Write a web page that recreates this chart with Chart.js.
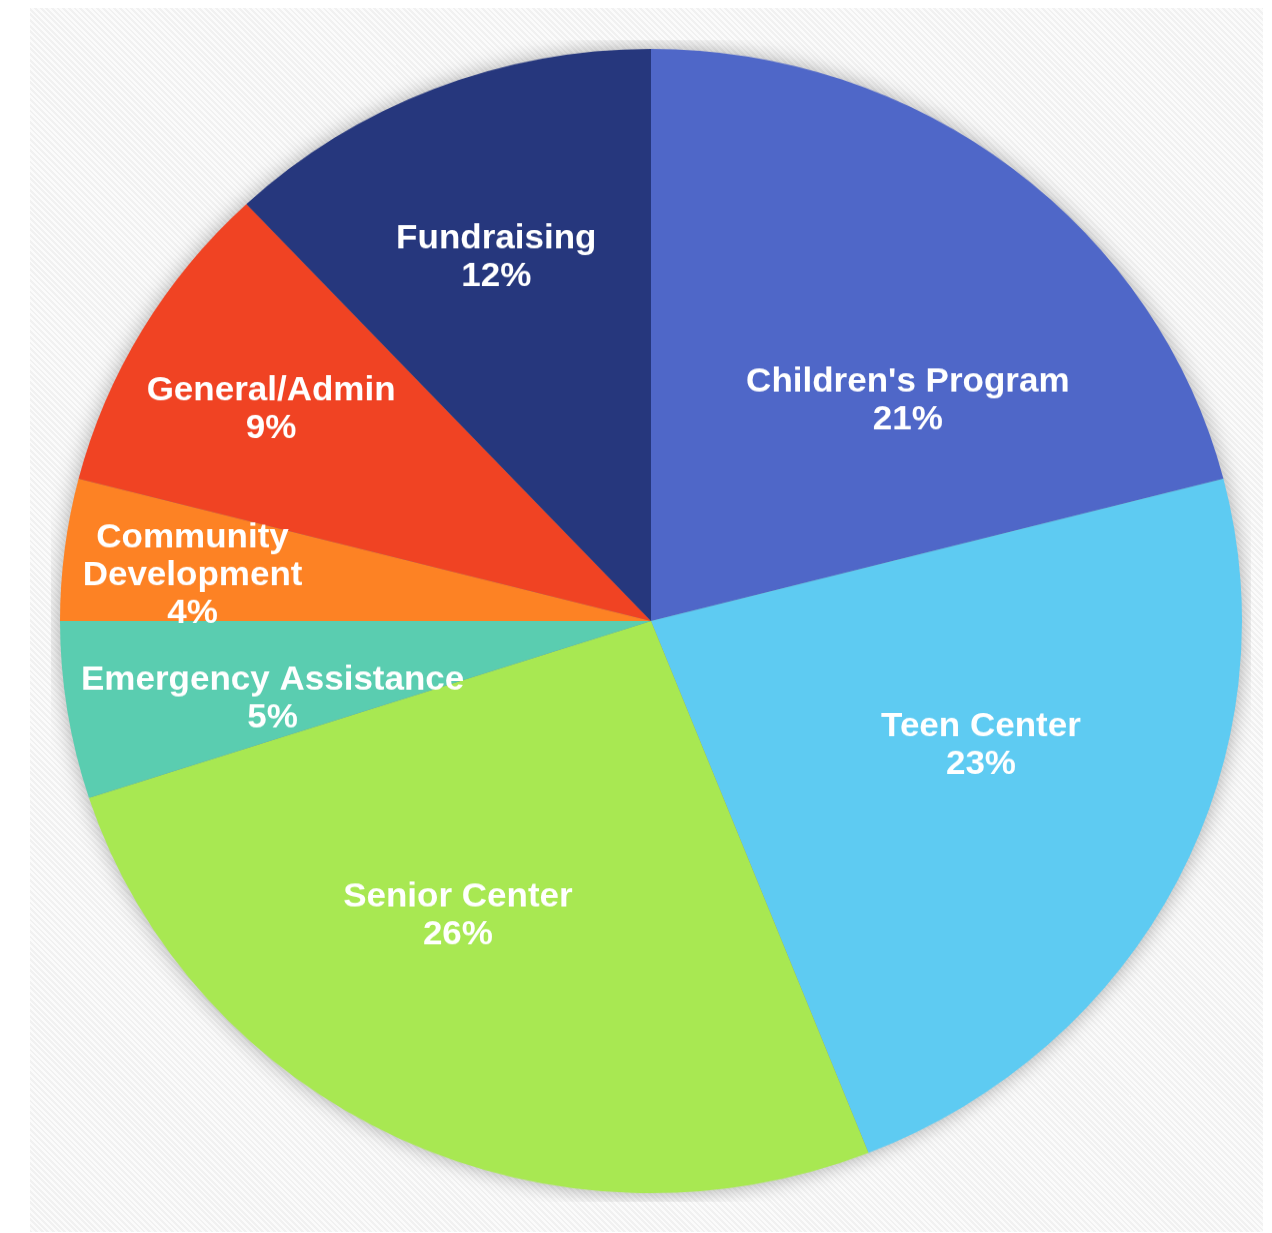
<!DOCTYPE html>
<html>
<head>
<meta charset="utf-8">
<script src="https://cdn.jsdelivr.net/npm/chart.js@4/dist/chart.umd.min.js"></script>
<style>
    html, body { margin: 0; padding: 0; background: #ffffff; }
    body { width: 1272px; height: 1233px; position: relative; overflow: hidden; }
    #panel {
        position: absolute; left: 30px; top: 8px; width: 1233px; height: 1224px;
        background: repeating-linear-gradient(45deg, #f1f1f1 0px, #f1f1f1 2px, #fbfbfb 2px, #fbfbfb 4px);
    }
    #wrap {
        position: absolute; left: 51px; top: 21px; width: 1200px; height: 1200px;
        transform: scaleY(0.968); transform-origin: 50% 50%;
    }
</style>
</head>
<body>
<div id="panel"></div>
<div id="wrap"><canvas id="pieChart"></canvas></div>
<script>
// カテゴリと割合（%）
const categories = [
    ["Children's Program"],
    ['Teen Center'],
    ['Senior Center'],
    ['Emergency Assistance'],
    ['Community', 'Development'],
    ['General/Admin'],
    ['Fundraising']
];
const shares = [21, 23, 26, 5, 4, 9, 12];
const sliceColors = ['#4f67c8', '#5ecbf2', '#a8e852', '#5acdb0', '#fd8224', '#f04323', '#26377d'];

// ラベル位置の微調整（中心角からのずれ[度]、半径に対する比率）
const labelAngleShift = [10.5, -6, 7.3, -2.8, -1.2, -0.5, -0.7];
const labelRadius = [0.582, 0.598, 0.608, 0.654, 0.78, 0.743, 0.69];

// 円の下に影を描く
const shadowPlugin = {
    id: 'pieShadow',
    beforeDatasetsDraw(chart) {
        const arc = chart.getDatasetMeta(0).data[0];
        if (!arc) return;
        const ctx = chart.ctx;
        ctx.save();
        ctx.shadowColor = 'rgba(0,0,0,0.35)';
        ctx.shadowBlur = 22;
        ctx.fillStyle = '#888';
        ctx.beginPath();
        ctx.arc(arc.x, arc.y, arc.outerRadius - 1, 0, Math.PI * 2);
        ctx.fill();
        ctx.restore();
    }
};

// スライス内のラベル
const labelPlugin = {
    id: 'sliceLabels',
    afterDatasetsDraw(chart) {
        const ctx = chart.ctx;
        const meta = chart.getDatasetMeta(0);
        ctx.save();
        ctx.fillStyle = '#ffffff';
        ctx.font = 'bold 35px "Liberation Sans", Arial, sans-serif';
        ctx.textAlign = 'center';
        ctx.textBaseline = 'middle';
        meta.data.forEach((arc, i) => {
            const mid = (arc.startAngle + arc.endAngle) / 2 + labelAngleShift[i] * Math.PI / 180;
            const r = arc.outerRadius * labelRadius[i];
            const cx = arc.x + Math.cos(mid) * r;
            const cy = arc.y + Math.sin(mid) * r + 2;
            const lines = categories[i].concat([shares[i] + '%']);
            const lh = 39;
            const top = cy - (lines.length - 1) * lh / 2;
            lines.forEach((t, j) => ctx.fillText(t, cx, top + j * lh));
        });
        ctx.restore();
    }
};

const ctx = document.getElementById('pieChart').getContext('2d');
new Chart(ctx, {
    type: 'pie',
    data: {
        labels: categories.map(c => c.join(' ')),
        datasets: [{
            data: shares,
            backgroundColor: sliceColors,
            borderWidth: 0
        }]
    },
    options: {
        responsive: true,
        maintainAspectRatio: false,
        animation: false,
        layout: { padding: 9 },
        plugins: {
            legend: { display: false },
            tooltip: { enabled: false }
        }
    },
    plugins: [shadowPlugin, labelPlugin]
});
</script>
</body>
</html>
